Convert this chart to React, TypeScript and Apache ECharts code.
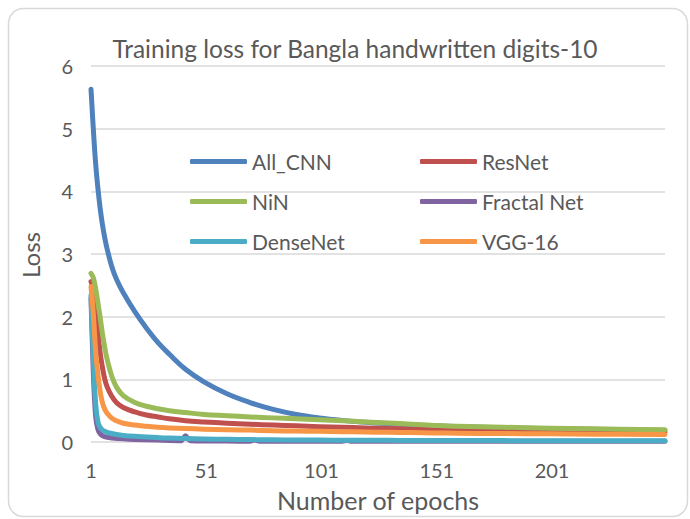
import React, { useEffect, useRef } from 'react';
import * as echarts from 'echarts';

const chartTitle = 'Training loss for Bangla handwritten digits-10';
const xAxisTitle = 'Number of epochs';
const yAxisTitle = 'Loss';

const epochs = [1, 2, 3, 4, 5, 6, 7, 8, 10, 12, 15, 20, 25, 30, 35, 42, 50, 60, 70, 80, 90, 100, 110, 120, 130, 140, 150, 160, 180, 200, 220, 250];

const allCnnLoss = [5.63, 5.0, 4.45, 4.05, 3.72, 3.46, 3.25, 3.08, 2.8, 2.6, 2.38, 2.08, 1.82, 1.59, 1.4, 1.16, 0.96, 0.77, 0.63, 0.52, 0.44, 0.385, 0.345, 0.315, 0.292, 0.273, 0.258, 0.246, 0.226, 0.211, 0.2, 0.185];
const resNetLoss = [2.56, 2.42, 2.12, 1.75, 1.42, 1.18, 1.0, 0.88, 0.73, 0.63, 0.55, 0.48, 0.43, 0.4, 0.37, 0.34, 0.32, 0.3, 0.285, 0.27, 0.26, 0.245, 0.235, 0.225, 0.215, 0.205, 0.195, 0.19, 0.18, 0.17, 0.165, 0.155];
const ninLoss = [2.69, 2.62, 2.45, 2.22, 1.98, 1.72, 1.5, 1.32, 1.05, 0.88, 0.74, 0.63, 0.57, 0.53, 0.5, 0.47, 0.44, 0.42, 0.4, 0.385, 0.37, 0.355, 0.34, 0.32, 0.305, 0.285, 0.265, 0.25, 0.235, 0.22, 0.21, 0.195];
const denseNetLoss = [2.35, 1.35, 0.62, 0.32, 0.23, 0.19, 0.17, 0.155, 0.135, 0.12, 0.105, 0.09, 0.08, 0.07, 0.062, 0.055, 0.048, 0.042, 0.038, 0.035, 0.032, 0.03, 0.028, 0.027, 0.026, 0.025, 0.024, 0.023, 0.022, 0.021, 0.02, 0.02];
const vgg16Loss = [2.48, 2.05, 1.45, 1.08, 0.8, 0.62, 0.52, 0.46, 0.38, 0.34, 0.3, 0.27, 0.25, 0.235, 0.225, 0.215, 0.205, 0.195, 0.19, 0.18, 0.175, 0.17, 0.165, 0.16, 0.155, 0.15, 0.145, 0.14, 0.135, 0.13, 0.125, 0.12];

const fractalEpochs = [1, 2, 3, 4, 5, 6, 8, 10, 15, 20, 30, 40, 42, 44, 60, 70, 72, 74, 100, 110, 112, 114, 150, 200, 250];
const fractalNetLoss = [2.3, 1.1, 0.42, 0.2, 0.13, 0.1, 0.075, 0.065, 0.05, 0.04, 0.03, 0.02, 0.1, 0.02, 0.015, 0.012, 0.03, 0.012, 0.012, 0.012, 0.025, 0.01, 0.01, 0.01, 0.01];

const seriesNames = ['All_CNN', 'ResNet', 'NiN', 'Fractal Net', 'DenseNet', 'VGG-16'];
const seriesEpochs = [epochs, epochs, epochs, fractalEpochs, epochs, epochs];
const seriesValues = [allCnnLoss, resNetLoss, ninLoss, fractalNetLoss, denseNetLoss, vgg16Loss];
const seriesColors = ['#4F81BD', '#C0504D', '#9BBB59', '#8064A2', '#4BACC6', '#F79646'];

const xTickLabels = ['1', '51', '101', '151', '201'];
const xTickStep = 50;
const lastEpoch = 250;

const FONT = 'Lato, "Open Sans", sans-serif';
const TEXT = '#595959';

export default function App() {
  const ref = useRef<HTMLDivElement>(null);
  useEffect(() => {
    if (!ref.current) return;
    const chart = echarts.init(ref.current, undefined, { renderer: 'svg' });
    const series = seriesNames.map((name, si) => ({
      name,
      type: 'line',
      data: seriesEpochs[si].map((e, i) => [e - 1, seriesValues[si][i]]),
      symbol: 'none',
      smooth: si === 3 ? 0.2 : 0.4,
      itemStyle: { color: seriesColors[si] },
      lineStyle: { color: seriesColors[si], width: 5, cap: 'round', join: 'round' },
      z: 2 + si,
    }));
    const legendText = { fontFamily: FONT, fontSize: 21, color: TEXT };
    const legendCommon = {
      orient: 'vertical',
      top: 151,
      padding: 0,
      itemWidth: 57,
      itemHeight: 5,
      itemGap: 19,
      icon: 'roundRect',
      textStyle: legendText,
      selectedMode: false,
    };
    chart.setOption({
      animation: false,
      backgroundColor: '#ffffff',
      grid: { left: 91, right: 25, top: 66, bottom: 77, containLabel: false, outerBoundsMode: 'none' },
      xAxis: {
        type: 'value',
        min: 0,
        max: lastEpoch - 1,
        interval: xTickStep,
        axisLine: { show: false },
        axisTick: { show: false },
        splitLine: { show: false },
        axisLabel: {
          fontFamily: FONT,
          fontSize: 20,
          color: TEXT,
          margin: 18,
          showMaxLabel: false,
          formatter: (v: number) => (v % xTickStep === 0 ? xTickLabels[v / xTickStep] ?? '' : ''),
        },
      },
      yAxis: {
        type: 'value',
        min: 0,
        max: 6,
        interval: 1,
        axisLine: { show: false },
        axisTick: { show: false },
        splitLine: { lineStyle: { color: '#d9d9d9', width: 1.5 } },
        axisLabel: { fontFamily: FONT, fontSize: 20, color: TEXT, margin: 18 },
      },
      legend: [
        { ...legendCommon, data: [seriesNames[0], seriesNames[2], seriesNames[4]], left: 190 },
        { ...legendCommon, data: [seriesNames[1], seriesNames[3], seriesNames[5]], left: 420 },
      ],
      graphic: [
        {
          type: 'rect',
          shape: { x: 8.5, y: 8.5, width: 679, height: 508, r: 15 },
          style: { fill: 'none', stroke: '#d9d9d9', lineWidth: 1.5 },
          z: 0,
          silent: true,
        },
        {
          type: 'text',
          x: 355,
          y: 48,
          style: { text: chartTitle, fontFamily: FONT, fontSize: 24.5, fill: TEXT, align: 'center', verticalAlign: 'middle' },
        },
        {
          type: 'text',
          x: 378,
          y: 500,
          style: { text: xAxisTitle, fontFamily: FONT, fontSize: 25, fill: TEXT, align: 'center', verticalAlign: 'middle' },
        },
        {
          type: 'text',
          x: 30,
          y: 255,
          rotation: Math.PI / 2,
          style: { text: yAxisTitle, fontFamily: FONT, fontSize: 24, fill: TEXT, align: 'center', verticalAlign: 'middle' },
        },
      ],
      series,
    });
    return () => chart.dispose();
  }, []);
  return <div ref={ref} style={{ position: 'fixed', left: 0, top: 0, width: 690, height: 519 }} />;
}
